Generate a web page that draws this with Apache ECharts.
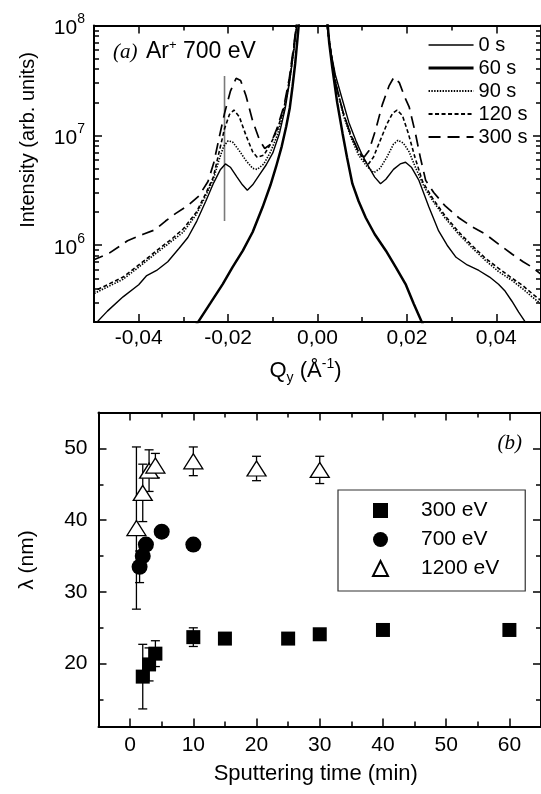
<!DOCTYPE html>
<html><head><meta charset="utf-8">
<script src="https://cdn.jsdelivr.net/npm/echarts@6/dist/echarts.min.js"></script>
<style>html,body{margin:0;padding:0;background:#fff}#c{width:541px;height:794px}</style>
</head><body><div id="c"></div>
<script>
// ---------- Panel (a): Qy (1/Å) and log10(Intensity) ----------
const q_0s = [-0.0505,-0.0470,-0.0435,-0.0400,-0.0383,-0.0360,-0.0335,-0.0310,-0.0290,-0.0270,-0.0250,-0.0232,-0.0217,-0.0206,-0.0195,-0.0180,-0.0168,-0.0157,-0.0145,-0.0130,-0.0115,-0.0100,-0.0085,-0.0072,-0.0062,-0.0052,-0.0045,-0.0040,
  0.0016,0.0020,0.0028,0.0040,0.0056,0.0070,0.0086,0.0100,0.0115,0.0128,0.0141,0.0153,0.0170,0.0185,0.0197,0.0210,0.0227,0.0249,0.0271,0.0290,0.0310,0.0335,0.0361,0.0385,0.0405,0.0420,0.0435,0.0450,0.0465,0.0480];
const logI_0s = [5.25,5.40,5.53,5.64,5.72,5.77,5.85,5.97,6.07,6.22,6.40,6.57,6.69,6.74,6.71,6.62,6.55,6.50,6.55,6.64,6.73,6.84,7.02,7.25,7.50,7.80,8.05,8.30,
  8.30,8.05,7.80,7.55,7.32,7.12,6.95,6.82,6.71,6.62,6.56,6.60,6.69,6.74,6.755,6.71,6.59,6.35,6.13,6.00,5.89,5.82,5.77,5.71,5.645,5.58,5.49,5.39,5.30,5.20];

const q_60s = [-0.0285,-0.0268,-0.0240,-0.0212,-0.0190,-0.0167,-0.0145,-0.0123,-0.0105,-0.0093,-0.0080,-0.0070,-0.0062,-0.0056,-0.0050,-0.0045,-0.0041,-0.0037,
  0.0018,0.0022,0.0026,0.0033,0.0044,0.0056,0.0066,0.0078,0.0092,0.0108,0.0128,0.0153,0.0175,0.0197,0.0215,0.0234,0.0245];
const logI_60s = [5.20,5.295,5.47,5.646,5.80,5.95,6.12,6.345,6.55,6.71,6.90,7.08,7.25,7.44,7.65,7.87,8.05,8.30,
  8.30,8.05,7.85,7.62,7.30,7.02,6.80,6.56,6.40,6.25,6.10,5.95,5.80,5.646,5.47,5.295,5.20];

const q_90s = [-0.0505,-0.0470,-0.0435,-0.0400,-0.0360,-0.0325,-0.0300,-0.0271,-0.0250,-0.0233,-0.0220,-0.0210,-0.0200,-0.0190,-0.0175,-0.0160,-0.0145,-0.0135,-0.0120,-0.0105,-0.0090,-0.0075,-0.0063,-0.0053,-0.0046,-0.0041,
  0.0016,0.0020,0.0030,0.0042,0.0058,0.0075,0.0092,0.0110,0.0126,0.0140,0.0155,0.0170,0.0180,0.0192,0.0205,0.0220,0.0240,0.0257,0.0285,0.0316,0.0345,0.0376,0.0405,0.0435,0.0460,0.0480,0.0505];
const logI_90s = [5.55,5.62,5.69,5.80,5.93,6.04,6.12,6.28,6.45,6.60,6.78,6.90,6.95,6.94,6.86,6.77,6.70,6.69,6.74,6.85,7.00,7.22,7.48,7.78,8.05,8.30,
  8.30,8.05,7.75,7.45,7.18,6.98,6.82,6.72,6.66,6.70,6.80,6.92,6.955,6.93,6.85,6.70,6.52,6.41,6.25,6.10,5.98,5.86,5.76,5.68,5.60,5.53,5.45];

const q_120s = [-0.0505,-0.0470,-0.0435,-0.0400,-0.0360,-0.0325,-0.0300,-0.0271,-0.0250,-0.0233,-0.0220,-0.0208,-0.0197,-0.0187,-0.0175,-0.0160,-0.0145,-0.0135,-0.0120,-0.0105,-0.0090,-0.0075,-0.0063,-0.0053,-0.0046,-0.0041,
  0.0016,0.0020,0.0030,0.0042,0.0058,0.0075,0.0092,0.0105,0.0114,0.0125,0.0140,0.0155,0.0168,0.0178,0.0190,0.0203,0.0218,0.0235,0.0257,0.0285,0.0316,0.0345,0.0376,0.0405,0.0435,0.0460,0.0480,0.0505];
const logI_120s = [5.57,5.64,5.71,5.82,5.95,6.06,6.15,6.30,6.47,6.62,6.85,7.06,7.19,7.23,7.17,7.00,6.85,6.80,6.82,6.92,7.05,7.25,7.50,7.80,8.05,8.30,
  8.30,8.05,7.75,7.45,7.20,7.00,6.85,6.77,6.74,6.80,6.95,7.10,7.20,7.23,7.18,7.02,6.80,6.58,6.43,6.27,6.12,6.00,5.88,5.79,5.70,5.63,5.56,5.48];

const q_300s = [-0.0505,-0.0487,-0.0465,-0.0425,-0.0390,-0.0364,-0.0340,-0.0317,-0.0290,-0.0265,-0.0245,-0.0232,-0.0220,-0.0208,-0.0195,-0.0182,-0.0172,-0.0160,-0.0145,-0.0130,-0.0118,-0.0105,-0.0090,-0.0075,-0.0063,-0.0053,-0.0046,-0.0041,
  0.0016,0.0020,0.0030,0.0042,0.0058,0.0075,0.0090,0.0104,0.0115,0.0130,0.0145,0.0160,0.0171,0.0183,0.0195,0.0205,0.0219,0.0230,0.0242,0.0260,0.0285,0.0316,0.0345,0.0376,0.0405,0.0435,0.0460,0.0480,0.0505];
const logI_300s = [5.86,5.89,5.93,6.04,6.10,6.14,6.22,6.29,6.36,6.45,6.58,6.75,6.98,7.20,7.40,7.52,7.50,7.36,7.13,6.96,6.88,6.92,7.07,7.27,7.52,7.82,8.05,8.30,
  8.30,8.05,7.75,7.45,7.20,7.00,6.87,6.80,6.86,7.05,7.28,7.45,7.53,7.48,7.35,7.26,7.02,6.80,6.59,6.48,6.36,6.25,6.17,6.10,6.01,5.92,5.85,5.80,5.72];

// grey marker line
const q_mark = [-0.0208, -0.0208];
const logI_mark = [6.22, 7.54];

const seriesNamesA = ['0 s', '60 s', '90 s', '120 s', '300 s'];

// axis ticks panel (a)
const qMajor = [-0.04, -0.02, 0, 0.02, 0.04];
const qMinor = [-0.03, -0.01, 0.01, 0.03];
const decades = [6, 7, 8];
const decadeMultipliers = [2, 3, 4, 5, 6, 7, 8, 9];
const logMin = 5.301, logMax = 8;

// ---------- Panel (b): sputtering time (min) and lambda (nm) ----------
const t_300 = [2, 3, 4, 10, 15, 25, 30, 40, 60];
const lam_300 = [18.2, 19.9, 21.4, 23.7, 23.5, 23.5, 24.1, 24.7, 24.7];
const err_300 = [4.5, 2.3, 1.8, 1.3, 0, 0, 0, 0, 0];

const t_700 = [1.5, 2, 2.5, 5, 10];
const lam_700 = [33.5, 35.0, 36.6, 38.4, 36.6];
const err_700 = [2.2, 0, 0, 0, 0];

const t_1200 = [1, 2, 3, 4, 10, 20, 30];
const lam_1200 = [38.9, 43.8, 46.9, 47.6, 48.2, 47.2, 47.0];
const err_1200 = [11.3, 4.0, 2.9, 1.7, 2.0, 1.7, 1.9];

const seriesNamesB = ['300 eV', '700 eV', '1200 eV'];
const tMajor = [0, 10, 20, 30, 40, 50, 60];
const tMinor = [5, 15, 25, 35, 45, 55];
const lamMajor = [20, 30, 40, 50];
const lamMinor = [15, 25, 35, 45];

// ---------- build ----------
const FONT = '"Liberation Sans", Arial, Helvetica, sans-serif';
const SERIF = '"Liberation Serif", "Times New Roman", serif';
const K = '#000';

const zip = (a, b) => a.map((v, i) => [v, b[i]]);
const logMinor = [];
[5, 6, 7].forEach(n => decadeMultipliers.forEach(k => {
  const v = n + Math.log10(k);
  if (v > logMin + 0.001 && v < logMax) logMinor.push(v);
}));

function ax(grid, pos, min, max, ticks, len, showLine, extra) {
  return Object.assign({
    type: 'value', gridIndex: grid, position: pos, min: min, max: max,
    axisLine: {show: showLine, onZero: false, lineStyle: {color: K, width: 2}},
    axisTick: {show: true, inside: true, length: len, customValues: ticks, lineStyle: {color: K, width: 1.5}},
    axisLabel: {show: false},
    splitLine: {show: false}
  }, extra || {});
}

const tickLabel = {color: K, fontFamily: FONT, fontSize: 21};

const xAxis = [
  // panel a
  ax(0, 'bottom', -0.05, 0.05, qMajor, 8, true, {
    axisLabel: Object.assign({show: true, customValues: qMajor, margin: 6,
      formatter: v => (v < 0 ? '-' : '') + Math.abs(v).toFixed(2).replace('.', ',')}, tickLabel),
    name: '{n|Q}{sub|y}{n| (Å}{sup|-1}{n|)}', nameLocation: 'middle', nameGap: 35,
    nameTextStyle: {padding: [0, 24, 0, 0], rich: {
      n: {fontFamily: FONT, fontSize: 22, color: K, lineHeight: 28},
      sub: {fontFamily: FONT, fontSize: 14, color: K, verticalAlign: 'bottom', lineHeight: 14},
      sup: {fontFamily: FONT, fontSize: 14, color: K, verticalAlign: 'top', lineHeight: 14}
    }}
  }),
  ax(0, 'bottom', -0.05, 0.05, qMinor, 5, false),
  ax(0, 'top', -0.05, 0.05, qMajor, 8, true),
  ax(0, 'top', -0.05, 0.05, qMinor, 5, false),
  // panel b
  ax(1, 'bottom', -5, 65, tMajor, 8, true, {
    axisLabel: Object.assign({show: true, customValues: tMajor, margin: 8}, tickLabel),
    name: 'Sputtering time (min)', nameLocation: 'middle', nameGap: 36,
    nameTextStyle: {fontFamily: FONT, fontSize: 22, color: K, padding: [0, 8, 0, 0]}
  }),
  ax(1, 'bottom', -5, 65, tMinor, 5, false),
  ax(1, 'top', -5, 65, tMajor, 8, true),
  ax(1, 'top', -5, 65, tMinor, 5, false)
];

const yAxis = [
  ax(0, 'left', logMin, logMax, decades, 8, true, {
    axisLabel: {show: true, customValues: decades, margin: 9,
      formatter: v => '{b|10}{s|' + Math.round(v) + '}',
      rich: {
        b: {fontFamily: FONT, fontSize: 21, color: K, lineHeight: 26, verticalAlign: 'bottom'},
        s: {fontFamily: FONT, fontSize: 14, color: K, lineHeight: 14, verticalAlign: 'top'}
      }}
  }),
  ax(0, 'left', logMin, logMax, logMinor, 5, false),
  ax(0, 'right', logMin, logMax, decades, 8, true),
  ax(0, 'right', logMin, logMax, logMinor, 5, false),
  ax(1, 'left', 11.25, 55, lamMajor, 8, true, {
    axisLabel: Object.assign({show: true, customValues: lamMajor, margin: 11}, tickLabel)
  }),
  ax(1, 'left', 11.25, 55, lamMinor, 5, false),
  ax(1, 'right', 11.25, 55, lamMajor, 8, true),
  ax(1, 'right', 11.25, 55, lamMinor, 5, false)
];

const lineStyles = {
  '0 s':   {color: K, width: 1.4, type: 'solid'},
  '60 s':  {color: K, width: 2.5, type: 'solid'},
  '90 s':  {color: K, width: 1.6, type: [1.4, 1.4]},
  '120 s': {color: K, width: 1.6, type: [4, 2.5]},
  '300 s': {color: K, width: 1.7, type: [12, 7]}
};
const dataA = {
  '0 s': zip(q_0s, logI_0s), '60 s': zip(q_60s, logI_60s), '90 s': zip(q_90s, logI_90s),
  '120 s': zip(q_120s, logI_120s), '300 s': zip(q_300s, logI_300s)
};

const series = [];
seriesNamesA.forEach(name => {
  series.push({
    type: 'line', name: name, xAxisIndex: 0, yAxisIndex: 0, data: dataA[name],
    symbol: 'none', showSymbol: false, clip: true, lineStyle: lineStyles[name],
    itemStyle: {color: K}, animation: false, z: 3
  });
});
series.push({
  type: 'line', name: 'marker', xAxisIndex: 0, yAxisIndex: 0, data: zip(q_mark, logI_mark),
  symbol: 'none', lineStyle: {color: '#7a7a7a', width: 1.6}, animation: false, z: 2
});

function errData(t, v, e) {
  const out = [];
  t.forEach((x, i) => { if (e[i] > 0) out.push([x, v[i] - e[i], v[i] + e[i]]); });
  return out;
}
function errSeries(data) {
  return {
    type: 'custom', xAxisIndex: 4, yAxisIndex: 4, data: data, animation: false, z: 2,
    encode: {x: 0, y: [1, 2]},
    renderItem: function (params, api) {
      const lo = api.coord([api.value(0), api.value(1)]);
      const hi = api.coord([api.value(0), api.value(2)]);
      const w = 4.5, st = {stroke: K, lineWidth: 1.3};
      return {type: 'group', children: [
        {type: 'line', shape: {x1: lo[0], y1: lo[1], x2: hi[0], y2: hi[1]}, style: st},
        {type: 'line', shape: {x1: lo[0] - w, y1: lo[1], x2: lo[0] + w, y2: lo[1]}, style: st},
        {type: 'line', shape: {x1: hi[0] - w, y1: hi[1], x2: hi[0] + w, y2: hi[1]}, style: st}
      ]};
    }
  };
}
series.push(errSeries(errData(t_300, lam_300, err_300)));
series.push(errSeries(errData(t_700, lam_700, err_700)));
series.push(errSeries(errData(t_1200, lam_1200, err_1200)));

series.push({type: 'scatter', name: '300 eV', xAxisIndex: 4, yAxisIndex: 4, data: zip(t_300, lam_300),
  symbol: 'rect', symbolSize: 14, itemStyle: {color: K, opacity: 1}, animation: false, z: 4});
series.push({type: 'scatter', name: '700 eV', xAxisIndex: 4, yAxisIndex: 4, data: zip(t_700, lam_700),
  symbol: 'circle', symbolSize: 16, itemStyle: {color: K, opacity: 1}, animation: false, z: 4});
series.push({type: 'scatter', name: '1200 eV', xAxisIndex: 4, yAxisIndex: 4, data: zip(t_1200, lam_1200),
  symbol: 'triangle', symbolSize: [19, 15], itemStyle: {color: '#fff', borderColor: K, borderWidth: 1.3, opacity: 1},
  animation: false, z: 4});

const legendA = seriesNamesA.map(n => ({name: n, lineStyle: {width: lineStyles[n].width + (n === '60 s' ? 0.6 : 0.2)}}));

const option = {
  backgroundColor: '#fff',
  animation: false,
  grid: [
    {left: 94, top: 25.5, width: 448, height: 296.5},
    {left: 98.5, top: 412.5, width: 444, height: 314}
  ],
  xAxis: xAxis,
  yAxis: yAxis,
  legend: [
    {data: legendA, orient: 'vertical', left: 427, top: 35, padding: 0,
      itemWidth: 45, itemHeight: 14, itemGap: 3, selectedMode: false,
      itemStyle: {opacity: 0, borderWidth: 0},
      textStyle: {fontFamily: FONT, fontSize: 20, color: K, lineHeight: 20}},
    {data: seriesNamesB, orient: 'vertical', left: 338, top: 490, padding: [10, 26, 12, 34],
      itemWidth: 15, itemHeight: 15, itemGap: 8, selectedMode: false,
      borderColor: '#333', borderWidth: 1.2,
      textStyle: {fontFamily: FONT, fontSize: 21, color: K, lineHeight: 21, padding: [0, 0, 0, 28]}}
  ],
  graphic: [
    {type: 'text', x: 113, y: 52, style: {text: '(a)', fontFamily: SERIF, fontStyle: 'italic', fontSize: 21,
      fill: K, align: 'left', verticalAlign: 'middle', textAlign: 'left', textVerticalAlign: 'middle'}},
    {type: 'text', x: 146, y: 52, style: {text: '{n|Ar}{s|+}{n| 700 eV}', fill: K,
      align: 'left', verticalAlign: 'middle', textAlign: 'left', textVerticalAlign: 'middle',
      rich: {n: {fontFamily: FONT, fontSize: 23, fill: K, color: K, lineHeight: 26},
             s: {fontFamily: FONT, fontSize: 13, fill: K, color: K, lineHeight: 13, verticalAlign: 'top'}}}},
    {type: 'text', x: 522, y: 443, style: {text: '(b)', fontFamily: SERIF, fontStyle: 'italic', fontSize: 21,
      fill: K, align: 'right', verticalAlign: 'middle', textAlign: 'right', textVerticalAlign: 'middle'}},
    {type: 'text', x: 28, y: 140, rotation: Math.PI / 2, style: {text: 'Intensity (arb. units)', fontFamily: FONT,
      fontSize: 20, fill: K, align: 'center', verticalAlign: 'middle', textAlign: 'center', textVerticalAlign: 'middle'}},
    {type: 'text', x: 27, y: 560, rotation: Math.PI / 2, style: {text: 'λ (nm)', fontFamily: FONT,
      fontSize: 21, fill: K, align: 'center', verticalAlign: 'middle', textAlign: 'center', textVerticalAlign: 'middle'}}
  ],
  series: series
};

const chart = echarts.init(document.getElementById('c'), null, {renderer: 'canvas'});
chart.setOption(option);
</script>
</body></html>
